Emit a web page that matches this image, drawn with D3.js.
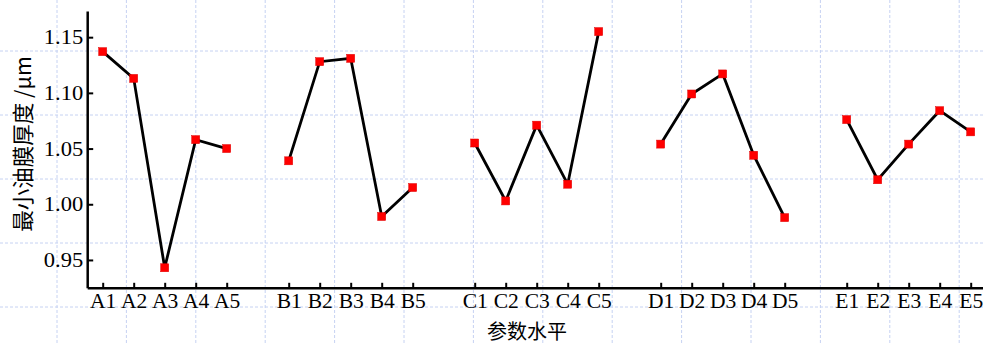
<!DOCTYPE html>
<html>
<head>
<meta charset="utf-8">
<script src="https://cdn.jsdelivr.net/npm/d3@7"></script>
<style>
  body { margin: 0; background: #fff; }
  svg text { font-family: "Liberation Serif", "Noto Sans CJK SC", serif; fill: #000; }
</style>
</head>
<body>
<div id="chart"></div>
<script>
// 1: DATA
const groups = ["A", "B", "C", "D", "E"];
const levels = ["1", "2", "3", "4", "5"];
const valuesA = [1.137, 1.113, 0.943, 1.058, 1.050];
const valuesB = [1.039, 1.128, 1.131, 0.989, 1.015];
const valuesC = [1.055, 1.003, 1.071, 1.018, 1.155];
const valuesD = [1.054, 1.099, 1.117, 1.044, 0.988];
const valuesE = [1.076, 1.022, 1.054, 1.084, 1.065];
const yTicks = [0.95, 1.00, 1.05, 1.10, 1.15];
const yTitle = "最小油膜厚度 /μm";
const xTitle = "参数水平";

const seriesValues = [valuesA, valuesB, valuesC, valuesD, valuesE];

// each group takes 5 slots plus one empty slot after it
const series = groups.map((g, gi) => seriesValues[gi].map((v, li) => ({
    label: g + levels[li],
    pos: gi * 6 + li,
    value: v
})));
const allPoints = series.flat();

// 2: SVG
const W = 983, H = 345;
const svg = d3.select("#chart").append("svg")
    .attr("width", W)
    .attr("height", H);

// background page grid (dashed light blue)
const gridG = svg.append("g");
d3.range(57, W, 69.4).forEach(x => {
    gridG.append("line")
        .attr("x1", x).attr("x2", x).attr("y1", 0).attr("y2", H)
        .attr("stroke", "#c6d2f2").attr("stroke-width", 1)
        .attr("stroke-dasharray", "3,2");
});
d3.range(51, H, 64).forEach(y => {
    gridG.append("line")
        .attr("x1", 0).attr("x2", W).attr("y1", y).attr("y2", y)
        .attr("stroke", "#c6d2f2").attr("stroke-width", 1)
        .attr("stroke-dasharray", "3,2");
});

// 3: SCALES
const x = d3.scaleLinear()
    .domain([-0.5, 28.5])
    .range([87.2, 986.2]);

const y = d3.scaleLinear()
    .domain([0.925, 1.1735])
    .range([287.8, 11]);

// 4: AXES
const xAxis = svg.append("g")
    .attr("transform", `translate(0,${y(0.925)})`)
    .call(d3.axisBottom(x)
        .tickValues(allPoints.map(d => d.pos))
        .tickFormat((d, i) => allPoints[i].label)
        .tickSizeInner(-5)
        .tickSizeOuter(0)
        .tickPadding(6));

const yAxis = svg.append("g")
    .attr("transform", `translate(${x(-0.5)},0)`)
    .call(d3.axisLeft(y)
        .tickValues(yTicks)
        .tickFormat(d3.format(".2f"))
        .tickSizeInner(-6)
        .tickSizeOuter(0)
        .tickPadding(4));

// the picture is a bit wider than tall, so stretch the text sideways
function stretch(sel, k) {
    sel.each(function() {
        const len = this.getComputedTextLength();
        d3.select(this)
            .attr("textLength", len * k)
            .attr("lengthAdjust", "spacingAndGlyphs");
    });
}

[xAxis, yAxis].forEach(ax => {
    ax.select(".domain").attr("stroke", "#000").attr("stroke-width", 2.5);
    ax.selectAll(".tick line").attr("stroke", "#000").attr("stroke-width", 2);
    ax.selectAll(".tick text")
        .style("font-family", "'Liberation Serif', serif")
        .style("font-size", "20.5px");
});
stretch(xAxis.selectAll(".tick text"), 1.05);
stretch(yAxis.selectAll(".tick text"), 1.1);

// 5: LINES AND MARKERS
const line = d3.line()
    .x(d => x(d.pos))
    .y(d => y(d.value));

svg.append("g")
    .selectAll("path")
    .data(series)
    .enter().append("path")
    .attr("d", line)
    .attr("fill", "none")
    .attr("stroke", "#000")
    .attr("stroke-width", 2.8);

svg.append("g")
    .selectAll("rect")
    .data(allPoints)
    .enter().append("rect")
    .attr("x", d => x(d.pos) - 4)
    .attr("y", d => y(d.value) - 4)
    .attr("width", 8)
    .attr("height", 8)
    .attr("fill", "#ff0000")
    .attr("stroke", "#e00000")
    .attr("stroke-width", 0.5);

// 6: LABELS
svg.append("text")
    .attr("transform", "translate(31,144) rotate(-90)")
    .attr("text-anchor", "middle")
    .style("font-family", "'Noto Sans CJK SC', sans-serif")
    .style("font-size", "21.5px")
    .text(yTitle);

svg.append("text")
    .attr("x", 527)
    .attr("y", 339)
    .attr("text-anchor", "middle")
    .style("font-family", "'Noto Sans CJK SC', sans-serif")
    .style("font-size", "20px")
    .text(xTitle);
</script>
</body>
</html>
